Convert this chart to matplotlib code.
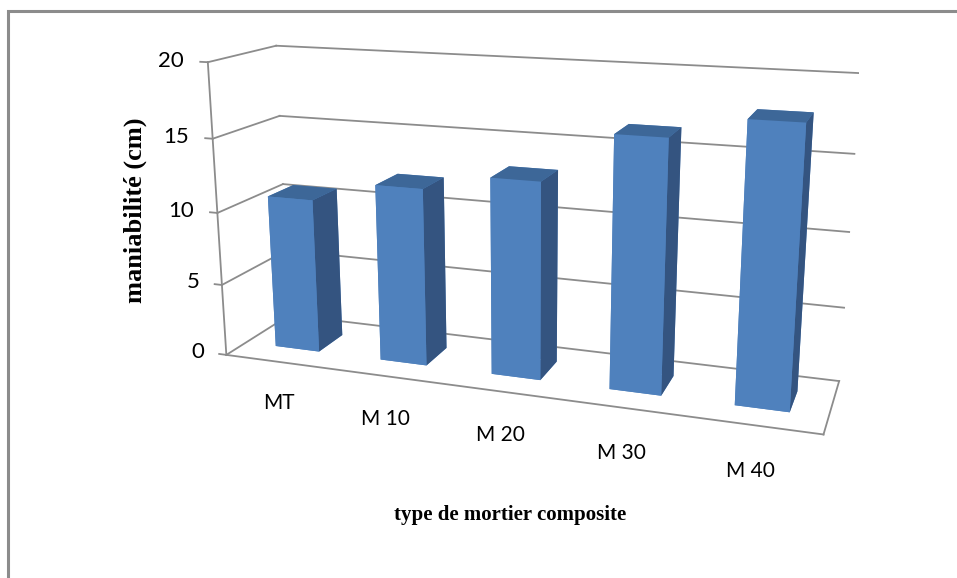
import matplotlib
matplotlib.use("Agg")
import matplotlib.pyplot as plt
import numpy as np
from matplotlib.patches import Rectangle
from mpl_toolkits.mplot3d import proj3d

categories = ["MT", "M 10", "M 20", "M 30", "M 40"]
values = [10.7, 12.1, 13.2, 16.5, 17.9]
z_ticks = [0, 5, 10, 15, 20]

FRONT = "#4F81BD"
SIDE = "#345480"
TOP = "#3D6798"
GRID = "#8C8C8C"

fig = plt.figure(figsize=(9.57, 5.78), dpi=100)
ax = fig.add_axes([0.047, 0.0055, 0.983, 1.188], projection="3d", computed_zorder=False)
ax.set_proj_type("persp", focal_length=0.35)
ax.view_init(elev=15, azim=-71, roll=0)
ax.set_box_aspect((4.7, 1.03, 2.35))
ax.set_axis_off()

xmin, xmax = -0.5, len(categories) - 0.5
ymin, ymax = 0.0, 1.0


def set_lims():
    ax.set_xlim(xmin, xmax)
    ax.set_ylim(ymin, ymax)
    ax.set_zlim(0, 20)


set_lims()

# walls: gridlines on back wall and left wall
for z in z_ticks:
    ax.plot([xmin, xmax], [ymax, ymax], [z, z], color=GRID, lw=1.3, zorder=1)
    ax.plot([xmin, xmin], [ymin, ymax], [z, z], color=GRID, lw=1.3, zorder=1)
# floor outline
ax.plot([xmin, xmax], [ymin, ymin], [0, 0], color=GRID, lw=1.3, zorder=1)
ax.plot([xmax, xmax], [ymin, ymax], [0, 0], color=GRID, lw=1.3, zorder=1)
# value axis with ticks
ax.plot([xmin, xmin], [ymin, ymin], [0, 20], color=GRID, lw=1.3, zorder=1)
for z in z_ticks:
    ax.plot([xmin - 0.07, xmin], [ymin, ymin], [z, z], color=GRID, lw=1.3, zorder=1)

# bars
w, d = 0.42, 0.4
xs = np.arange(len(categories)) - w / 2
ys = np.full(len(categories), 0.5 - d / 2)
face_cols = []
for _ in categories:
    # order: -z, +z, -y, +y, -x, +x
    face_cols += [FRONT, TOP, FRONT, FRONT, FRONT, SIDE]
ax.bar3d(xs, ys, np.zeros(len(categories)), w, d, values,
         color=face_cols, shade=False, edgecolor="none", linewidth=0, zorder=2)

set_lims()
M = ax.get_proj()


def label3d(x, y, z, s, **kw):
    px, py, _ = proj3d.proj_transform(x, y, z, M)
    ax.text2D(px, py, s, transform=ax.transData, **kw)


for z in z_ticks:
    label3d(xmin - 0.22, ymin, z, str(z), ha="right", va="center",
            fontsize=16, family="Lato")
for i, lab in enumerate(categories):
    label3d(i - 0.02, ymin, -3.0, lab, ha="center", va="center",
            fontsize=15, family="Lato")

fig.text(0.141, 0.637, "maniabilité (cm)", rotation=90, ha="center", va="center",
         fontsize=19, fontweight="bold", family="Liberation Serif")
fig.text(0.533, 0.109, "type de mortier composite", ha="center", va="center",
         fontsize=15, fontweight="bold", family="Liberation Serif")

# chart area border (only left and top visible)
fig.patches.append(Rectangle((8 / 957, -0.1), 1.2, 1 - 11 / 578 + 0.1,
                             transform=fig.transFigure, fill=False,
                             edgecolor="#8C8C8C", lw=2.2))

fig.savefig("out.png", dpi=100)
